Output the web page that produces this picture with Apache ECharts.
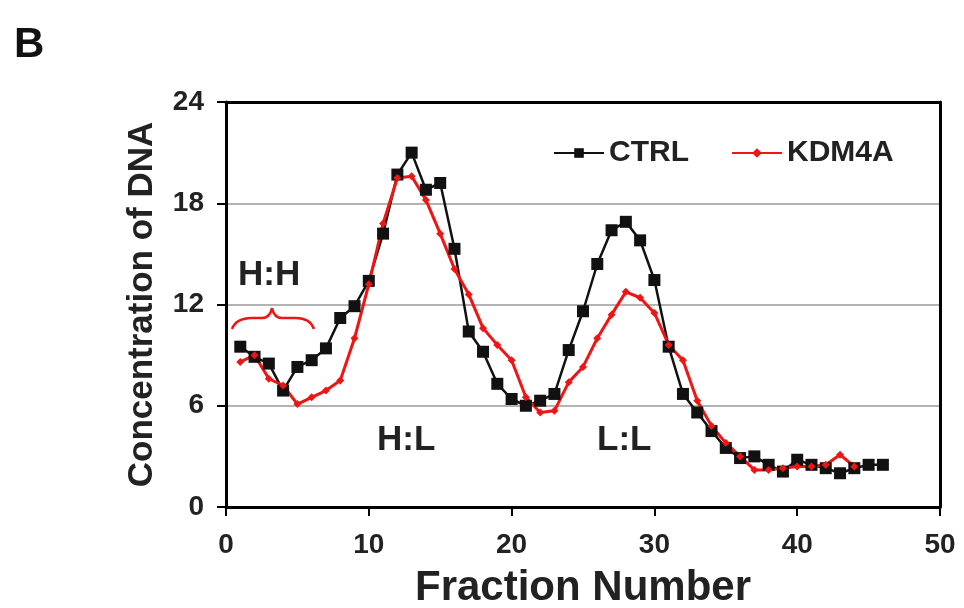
<!DOCTYPE html>
<html>
<head>
<meta charset="utf-8">
<script src="https://cdn.jsdelivr.net/npm/echarts@6/dist/echarts.min.js"></script>
<style>
  html, body { margin: 0; padding: 0; background: #fff; }
  #chart { width: 964px; height: 608px; }
</style>
</head>
<body>
<div id="chart"></div>
<script>
const fractions = [1, 2, 3, 4, 5, 6, 7, 8, 9, 10, 11, 12, 13, 14, 15, 16, 17, 18, 19, 20, 21, 22, 23,
  24, 25, 26, 27, 28, 29, 30, 31, 32, 33, 34, 35, 36, 37, 38, 39, 40, 41, 42, 43, 44, 45, 46];
const ctrl = [9.5, 8.9, 8.5, 6.9, 8.3, 8.7, 9.4, 11.2, 11.9, 13.4, 16.2, 19.7, 21.0, 18.8, 19.2, 15.3,
  10.4, 9.2, 7.3, 6.4, 6.0, 6.3, 6.7, 9.3, 11.6, 14.4, 16.4, 16.9, 15.8, 13.45, 9.5, 6.7, 5.6, 4.5,
  3.5, 2.9, 3.0, 2.5, 2.1, 2.8, 2.5, 2.3, 2.0, 2.3, 2.5, 2.5];
const kdm4a = [8.6, 9.0, 7.6, 7.2, 6.1, 6.5, 6.9, 7.5, 10.0, 13.2, 16.8, 19.5, 19.6, 18.2, 16.2, 14.1,
  12.6, 10.6, 9.6, 8.7, 6.5, 5.6, 5.7, 7.4, 8.3, 10.0, 11.4, 12.75, 12.4, 11.5, 9.6, 8.7, 6.3, 4.8,
  3.8, 3.0, 2.2, 2.2, 2.3, 2.4, 2.4, 2.5, 3.1, 2.4];
const xTicks = [0, 10, 20, 30, 40, 50];
const yTicks = [0, 6, 12, 18, 24];

const font = "'Liberation Sans', Arial, sans-serif";
const red = "#ee1515";

const chart = echarts.init(document.getElementById("chart"), null, { renderer: "canvas" });

const pairs = (ys) => ys.map((v, i) => [fractions[i], v]);

// red curly brace under "H:H"
const braceStyle = { stroke: red, lineWidth: 2.5, fill: null };
const brace = [
  { type: "bezierCurve", shape: { x1: 232, y1: 329, cpx1: 236, cpy1: 318, x2: 252, y2: 318 } },
  { type: "line", shape: { x1: 252, y1: 318, x2: 262, y2: 318 } },
  { type: "bezierCurve", shape: { x1: 262, y1: 318, cpx1: 270, cpy1: 318, x2: 272, y2: 308 } },
  { type: "bezierCurve", shape: { x1: 272, y1: 308, cpx1: 274, cpy1: 318, x2: 282, y2: 318 } },
  { type: "line", shape: { x1: 282, y1: 318, x2: 296, y2: 318 } },
  { type: "bezierCurve", shape: { x1: 296, y1: 318, cpx1: 310, cpy1: 318, x2: 314, y2: 329 } }
].map((g) => Object.assign(g, { style: braceStyle }));

// frame lines on top and right
const frameAxis = {
  show: true,
  axisLine: { show: true, onZero: false, lineStyle: { color: "#000", width: 3 } },
  axisTick: { show: false }, axisLabel: { show: false }, splitLine: { show: false }
};

chart.setOption({
  animation: false,
  backgroundColor: "#fff",
  grid: {
    left: 226, right: 24, top: 102, bottom: 101,
    outerBoundsMode: "none", containLabel: false
  },
  legend: {
    left: 548, top: 133,
    itemWidth: 50, itemHeight: 12, itemGap: 42,
    textStyle: { fontFamily: font, fontWeight: "bold", fontSize: 30, color: "#222" },
    data: ["CTRL", "KDM4A"]
  },
  xAxis: [{
    type: "value", min: xTicks[0], max: xTicks[xTicks.length - 1], interval: 10,
    axisLine: { onZero: false, lineStyle: { color: "#000", width: 3 } },
    axisTick: { show: true, length: 9, lineStyle: { color: "#000", width: 2 } },
    axisLabel: { margin: 24, fontFamily: font, fontWeight: "bold", fontSize: 28, color: "#222" },
    splitLine: { show: false },
    name: "Fraction Number", nameLocation: "middle", nameGap: 60,
    nameTextStyle: { fontFamily: font, fontWeight: "bold", fontSize: 42, color: "#222" }
  }, Object.assign({
    type: "value", position: "top", min: xTicks[0], max: xTicks[xTicks.length - 1]
  }, frameAxis)],
  yAxis: [{
    type: "value", min: yTicks[0], max: yTicks[yTicks.length - 1], interval: 6,
    axisLine: { show: true, onZero: false, lineStyle: { color: "#000", width: 3 } },
    axisTick: { show: true, length: 9, lineStyle: { color: "#000", width: 2 } },
    axisLabel: { margin: 22, fontFamily: font, fontWeight: "bold", fontSize: 28, color: "#222" },
    splitLine: { show: true, lineStyle: { color: "#9a9a9a", width: 1.5 } },
    name: "Concentration of DNA", nameLocation: "middle", nameGap: 66,
    nameTextStyle: { fontFamily: font, fontWeight: "bold", fontSize: 35, color: "#222" }
  }, Object.assign({
    type: "value", position: "right", min: yTicks[0], max: yTicks[yTicks.length - 1]
  }, frameAxis)],
  series: [
    {
      name: "CTRL", type: "line", data: pairs(ctrl),
      symbol: "rect", symbolSize: 12,
      itemStyle: { color: "#111" },
      lineStyle: { color: "#111", width: 2.5 }
    },
    {
      name: "KDM4A", type: "line", data: pairs(kdm4a),
      symbol: "diamond", symbolSize: 8,
      itemStyle: { color: red },
      lineStyle: { color: red, width: 3 }
    }
  ],
  graphic: [
    { type: "text", left: 14, top: 24,
      style: { text: "B", fontFamily: font, fontWeight: "bold", fontSize: 42, fill: "#111" } },
    { type: "text", left: 238, top: 258,
      style: { text: "H:H", fontFamily: font, fontWeight: "bold", fontSize: 35, fill: "#222" } },
    { type: "text", left: 377, top: 423,
      style: { text: "H:L", fontFamily: font, fontWeight: "bold", fontSize: 35, fill: "#222" } },
    { type: "text", left: 597, top: 423,
      style: { text: "L:L", fontFamily: font, fontWeight: "bold", fontSize: 35, fill: "#222" } }
  ].concat(brace)
});
</script>
</body>
</html>
